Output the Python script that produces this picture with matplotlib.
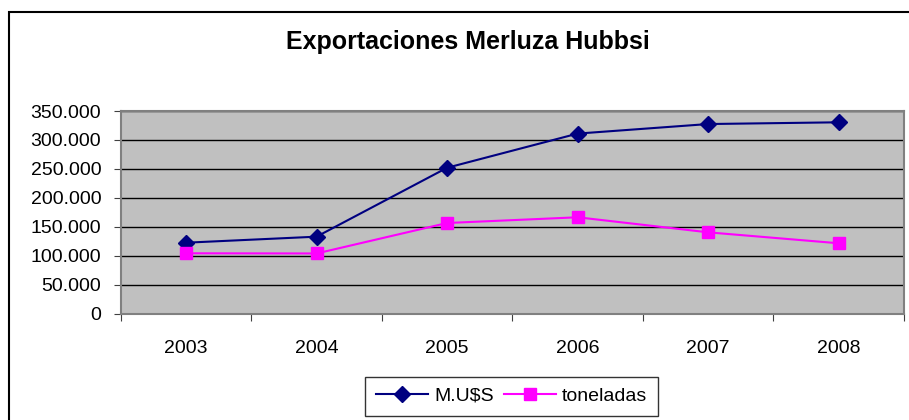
import matplotlib.pyplot as plt
from matplotlib.ticker import FuncFormatter
from matplotlib.patches import Rectangle

years = ['2003', '2004', '2005', '2006', '2007', '2008']
musd = [122600, 133000, 252000, 311000, 327500, 330500]
toneladas = [104300, 104000, 156600, 166500, 140500, 121600]

plt.rcParams['font.family'] = ['Liberation Sans', 'DejaVu Sans']

fig = plt.figure(figsize=(9.09, 4.2), dpi=100)
ax = fig.add_axes([0.1328, 0.2531, 0.8617, 0.4826])

# outer chart frame
fig.patches.append(Rectangle((9 / 909, -0.1), 1.2, 1 - 12 / 420 + 0.1,
                             transform=fig.transFigure, fill=False,
                             edgecolor='black', linewidth=1.5))

x = list(range(len(years)))
ax.set_facecolor('#C0C0C0')
ax.plot(x, musd, color='#000080', marker='D', markersize=8, linewidth=1.5,
        label='M.U$S', zorder=3)
ax.plot(x, toneladas, color='#FF00FF', marker='s', markersize=8, linewidth=1.5,
        label='toneladas', zorder=3)

ax.set_xlim(-0.5, len(years) - 0.5)
ax.set_ylim(0, 350000)
ax.set_yticks(range(0, 350001, 50000))
ax.yaxis.set_major_formatter(FuncFormatter(lambda v, p: '{:,.0f}'.format(v).replace(',', '.')))
ax.grid(axis='y', color='black', linewidth=1)
ax.set_axisbelow(True)

ax.set_xticks([i - 0.5 for i in range(len(years) + 1)])
ax.set_xticklabels([])
ax.set_xticks(x, minor=True)
ax.set_xticklabels(years, minor=True)
ax.tick_params(axis='x', which='major', length=5, color='#404040')
ax.tick_params(axis='x', which='minor', length=0, pad=19, labelsize=14)
ax.tick_params(axis='y', length=5, color='#404040', labelsize=14, pad=9)

for s in ax.spines.values():
    s.set_color('#808080')
    s.set_linewidth(1.5)

fig.text(467.5 / 909, 1 - 42 / 420, 'Exportaciones Merluza Hubbsi',
         fontsize=18, fontweight='bold', ha='center', va='center')

leg = fig.legend(loc='center', bbox_to_anchor=(511.5 / 909, 1 - 396 / 420), ncol=2,
                 fontsize=14, frameon=True, fancybox=False, handlelength=2.7,
                 columnspacing=0.5, handletextpad=0.3, borderpad=0.55)
leg.get_frame().set_edgecolor('black')
leg.get_frame().set_linewidth(1)

fig.savefig('out.png', dpi=100)
